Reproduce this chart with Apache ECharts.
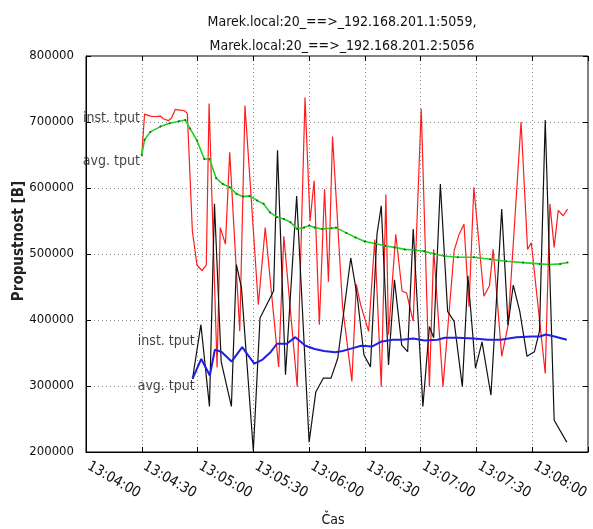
<!DOCTYPE html>
<html>
<head>
<meta charset="utf-8">
<script src="https://cdn.jsdelivr.net/npm/echarts@6/dist/echarts.min.js"></script>
<style>
  html, body { margin: 0; padding: 0; background: #fff; }
  #chart { width: 593px; height: 529px; }
</style>
</head>
<body>
<div id="chart"></div>
<script>
// Time axis: seconds of day; samples are stored as seconds after 13:04:00
const START = 13 * 3600 + 4 * 60;
const AXIS_MIN = START - 30;          // 13:03:30
const AXIS_MAX = START + 240;         // 13:08:00
const X_STEP = 30;
const Y_MIN = 200000, Y_MAX = 800000, Y_STEP = 100000;

const titleLines = [
  'Marek.local:20_==>_192.168.201.1:5059,',
  'Marek.local:20_==>_192.168.201.2:5056'
];

// Connection 1 -> 192.168.201.1:5059
const conn1Inst = [
  [0,650000],[1.5,712000],[4.6,709000],[7.2,708000],[10,709000],[11.6,705000],[14.3,702000],
  [16,706000],[18,719000],[20.5,718000],[23,717000],[24.5,713000],[27.2,535000],[29.7,483000],
  [32.4,475000],[34.7,483000],[36.2,728000],[40.5,328000],[42.2,540000],[45,515000],[47.3,654000],
  [52.7,383000],[55.5,725000],[62.7,423000],[66.4,540000],[73.6,329000],[76.4,527000],[83.6,299000],
  [87.8,737000],[90.5,550000],[92.7,611000],[95.5,393000],[98.3,598000],[100.4,458000],[102.6,678000],
  [108,420000],[113,307000],[115.4,454000],[117.7,423000],[122,383000],[125.3,522000],[128.8,299000],
  [131.3,590000],[132.7,378000],[136.6,530000],[140,444000],[142.4,441000],[146,398000],[150.3,720000],
  [154.7,299000],[157,507000],[162,299000],[168,505000],[170.7,530000],[173.3,545000],[176,420000],
  [178.6,601000],[184,436000],[187,452000],[189,507000],[193.6,345000],[197,392000],[204,700000],
  [207.5,507000],[209.5,517000],[217,319000],[219.5,576000],[221.8,510000],[224,566000],[226.6,558000],
  [229,568000]
];
const conn1Avg = [
  [0,650000],[1.5,673000],[4.6,685000],[10,693000],[15,698000],[20,701000],[23.4,703000],[26,690000],
  [29.7,672000],[33.6,644000],[36.4,644000],[40,615000],[43.6,606000],[47.3,601000],[51,591000],
  [54.5,587000],[58,588000],[62,581000],[65.5,576000],[69,563000],[72.7,556000],[76.4,553000],
  [80,548000],[83.6,538000],[87.3,540000],[90,543000],[93,540000],[97,538000],[102,539000],
  [104.5,540000],[110,532000],[115,525000],[120,519000],[125.6,516000],[131,512000],[136,510000],
  [141.5,507000],[146.8,506000],[152,504000],[157.4,500000],[162.7,497000],[170,495000],[178.6,495000],
  [187.4,492000],[196,489000],[205,487000],[214,485000],[219,484000],[225,485000],[229,487000]
];

// Connection 2 -> 192.168.201.2:5056
const conn2Inst = [
  [27.3,311000],[31.8,393000],[36.4,269000],[39.1,576000],[42.7,337000],[48.2,269000],[50.9,484000],
  [53.6,449000],[60,202000],[63.6,403000],[70.9,444000],[73,657000],[77.3,317000],[83.3,588000],
  [90,215000],[93.6,291000],[97.7,312000],[101.8,312000],[105.4,342000],[112.4,494000],[116,433000],
  [119.5,347000],[123,329000],[126.5,530000],[128.8,573000],[132.7,332000],[135.9,461000],[139.8,362000],
  [143,352000],[146,538000],[151.2,269000],[154.7,390000],[157,373000],[160.6,606000],[164.5,413000],
  [168,398000],[172.4,299000],[175.4,467000],[179.5,327000],[183,367000],[187.8,286000],[193.6,568000],
  [197,392000],[199.8,453000],[203.3,413000],[207.2,345000],[211.2,352000],[213.9,383000],[217,703000],
  [221.8,248000],[228.6,215000]
];
const conn2Avg = [
  [27.3,311000],[32,341000],[36.6,316000],[39.3,355000],[42.8,352000],[48.3,337000],[54,359000],
  [60.5,334000],[65,340000],[69.5,352000],[72.7,364000],[78,364000],[82.6,374000],[88,361000],
  [93,356000],[98,353000],[104,351000],[108,353000],[113,357000],[118,361000],[124,360000],
  [128.5,367000],[135,370000],[140,370000],[146,372000],[152,369000],[159,370000],[163,373000],
  [170,373000],[178.6,372000],[186,370000],[193,370000],[201.5,374000],[210,375000],[214,375000],
  [217.4,378000],[222,375000],[228.6,370000]
];

// Series captions, anchored by their right edge at [time, value]
const captions = [
  { text: 'inst. tput', at: [-0.5, 705000] },
  { text: 'avg. tput',  at: [-0.5, 640000] },
  { text: 'inst. tput', at: [29, 367000] },
  { text: 'avg. tput',  at: [29, 300000] }
];

const FONT = "'DejaVu Sans Condensed', 'DejaVu Sans', sans-serif";

function toAxis(points) {
  return points.map(p => [START + p[0], p[1]]);
}
function clock(v) {
  const h = Math.floor(v / 3600), m = Math.floor((v % 3600) / 60), s = Math.round(v % 60);
  const pad = n => String(n).padStart(2, '0');
  return pad(h) + ':' + pad(m) + ':' + pad(s);
}

function lineSeries(name, points, color, width, symbolColor) {
  return {
    name: name,
    type: 'line',
    data: toAxis(points),
    showSymbol: !!symbolColor,
    symbol: 'circle',
    symbolSize: 2,
    itemStyle: { color: symbolColor || color },
    lineStyle: { color: color, width: width },
    emphasis: { disabled: true },
    silent: true,
    z: 3
  };
}

const chart = echarts.init(document.getElementById('chart'), null, { renderer: 'canvas' });

const gridDots = { color: '#8a8a8a', width: 1, type: [1, 3] };

chart.setOption({
  animation: false,
  backgroundColor: '#fff',
  title: {
    text: titleLines.join('\n'),
    left: 337,
    textAlign: 'center',
    top: 5,
    textStyle: { fontFamily: FONT, fontSize: 14, fontWeight: 'normal', color: '#111', lineHeight: 24 }
  },
  grid: {
    left: 86, right: 5, top: 56, bottom: 77,
    show: true, borderColor: '#000', borderWidth: 1,
    containLabel: false, outerBoundsMode: 'none'
  },
  xAxis: [{
    type: 'value',
    min: AXIS_MIN, max: AXIS_MAX, interval: X_STEP,
    name: 'Čas',
    nameLocation: 'middle',
    nameGap: 61,
    nameMoveOverlap: false,
    nameTextStyle: { fontFamily: FONT, fontSize: 14, color: '#111', padding: [0, 8, 0, 0] },
    axisLine: { show: true, onZero: false, lineStyle: { color: '#000' } },
    axisTick: { show: true, inside: true, length: 5, lineStyle: { color: '#000' } },
    axisLabel: {
      rotate: -30,
      align: 'right',
      verticalAlign: 'middle',
      margin: 44,
      padding: [0, 3, 0, 0],
      fontFamily: FONT, fontSize: 14.5, color: '#111',
      showMinLabel: true, showMaxLabel: true,
      formatter: v => (v === AXIS_MIN ? '' : clock(v))
    },
    splitLine: { show: true, lineStyle: gridDots }
  }, {
    type: 'value', position: 'top',
    min: AXIS_MIN, max: AXIS_MAX, interval: X_STEP,
    axisLine: { show: false },
    axisTick: { show: true, inside: true, length: 5, lineStyle: { color: '#000' } },
    axisLabel: { show: false },
    splitLine: { show: false }
  }],
  yAxis: [{
    type: 'value',
    min: Y_MIN, max: Y_MAX, interval: Y_STEP,
    name: 'Propustnost [B]',
    nameLocation: 'middle',
    nameGap: 59,
    nameMoveOverlap: false,
    nameTextStyle: { fontFamily: FONT, fontSize: 15, fontWeight: 'bold', color: '#222', padding: [0, 0, 0, 26] },
    axisLine: { show: true, lineStyle: { color: '#000' } },
    axisTick: { show: true, inside: true, length: 5, lineStyle: { color: '#000' } },
    axisLabel: { margin: 12, fontFamily: FONT, fontSize: 13, color: '#111', formatter: v => String(v) },
    splitLine: { show: true, lineStyle: gridDots }
  }, {
    type: 'value', position: 'right',
    min: Y_MIN, max: Y_MAX, interval: Y_STEP,
    axisLine: { show: false },
    axisTick: { show: true, inside: true, length: 5, lineStyle: { color: '#000' } },
    axisLabel: { show: false },
    splitLine: { show: false }
  }],
  series: [
    lineSeries('conn1 inst', conn1Inst, '#ff1c1c', 1.2),
    lineSeries('conn2 inst', conn2Inst, '#111111', 1.2),
    lineSeries('conn1 avg', conn1Avg, '#22d022', 1.6, '#0a6a0a'),
    lineSeries('conn2 avg', conn2Avg, '#2020e0', 2),
    {
      name: 'captions',
      type: 'scatter',
      data: captions.map(c => ({ value: [START + c.at[0], c.at[1]], name: c.text })),
      symbolSize: 0,
      silent: true,
      z: 5,
      label: {
        show: true,
        position: 'left',
        distance: 1,
        formatter: p => p.name,
        fontFamily: FONT, fontSize: 14, color: '#111'
      }
    }
  ]
});
</script>
</body>
</html>
